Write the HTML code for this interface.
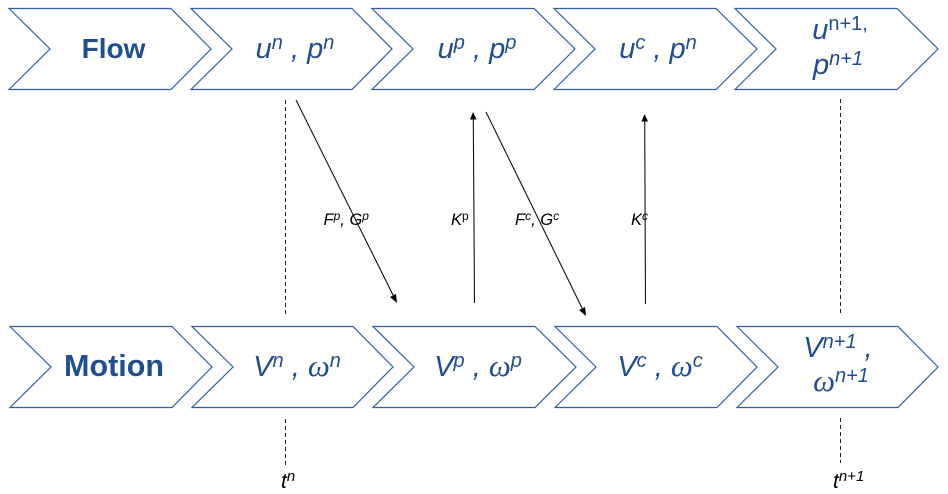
<!DOCTYPE html>
<html><head><meta charset="utf-8"><style>
html,body{margin:0;padding:0;background:#fff;width:948px;height:494px;overflow:hidden}
svg{display:block}
text{font-family:"Liberation Sans",sans-serif}
.c{fill:#fff;stroke:#2f5da6;stroke-width:1.2}
.b{fill:#1f4e91;font-size:28px;font-weight:bold;text-anchor:middle}
.m{fill:#1f4e91;font-size:29px;font-style:italic;text-anchor:middle}
.s{font-size:20px}
.u{font-size:20px;font-style:normal}
.w{font-family:"Liberation Serif",serif;font-size:31px}
.l{fill:#000;font-size:16.5px;font-style:italic}
.ls{font-size:12px}
.t{fill:#000;font-size:21px;font-style:italic}
.ts{font-size:15px}
.d{stroke:#222;stroke-width:1;stroke-dasharray:4 3;fill:none}
.a{stroke:#111;stroke-width:1.1;fill:none}
</style></head><body>
<svg width="948" height="494" viewBox="0 0 948 494" xmlns="http://www.w3.org/2000/svg">
<polygon class="c" points="9,8.5 171,8.5 211,49 171,89.5 9,89.5 50,49"/>
<polygon class="c" points="191,8.5 352,8.5 392,49 352,89.5 191,89.5 232,49"/>
<polygon class="c" points="372,8.5 534,8.5 575,49 534,89.5 372,89.5 413,49"/>
<polygon class="c" points="554,8.5 716,8.5 757,49 716,89.5 554,89.5 595,49"/>
<polygon class="c" points="735,8.5 897,8.5 938,49 897,89.5 735,89.5 776,49"/>
<polygon class="c" points="10,326.5 172,326.5 212,367 172,407.5 10,407.5 51,367"/>
<polygon class="c" points="192,326.5 353,326.5 393,367 353,407.5 192,407.5 233,367"/>
<polygon class="c" points="373,326.5 535,326.5 576,367 535,407.5 373,407.5 414,367"/>
<polygon class="c" points="555,326.5 717,326.5 757,367 717,407.5 555,407.5 596,367"/>
<polygon class="c" points="737,326.5 898,326.5 938,367 898,407.5 737,407.5 778,367"/>

<text class="b" x="113.5" y="58">Flow</text>
<text class="b" x="114" y="376" style="font-size:30.5px">Motion</text>

<text class="m" x="295" y="58" xml:space="preserve">u<tspan class="s" dy="-9">n</tspan><tspan dy="9"> , p</tspan><tspan class="s" dy="-9">n</tspan></text>
<text class="m" x="477" y="58" xml:space="preserve">u<tspan class="s" dy="-9">p</tspan><tspan dy="9"> , p</tspan><tspan class="s" dy="-9">p</tspan></text>
<text class="m" x="658" y="58" xml:space="preserve">u<tspan class="s" dy="-9">c</tspan><tspan dy="9"> , p</tspan><tspan class="s" dy="-9">n</tspan></text>
<text class="m" x="840" y="39">u<tspan class="u" dy="-9">n+1,</tspan></text>
<text class="m" x="838" y="74">p<tspan class="s" dy="-9">n+1</tspan></text>

<text class="m" x="297" y="376" xml:space="preserve">V<tspan class="s" dy="-9">n</tspan><tspan dy="9"> , </tspan><tspan class="w">ω</tspan><tspan class="s" dy="-9">n</tspan></text>
<text class="m" x="478" y="376" xml:space="preserve">V<tspan class="s" dy="-9">p</tspan><tspan dy="9"> , </tspan><tspan class="w">ω</tspan><tspan class="s" dy="-9">p</tspan></text>
<text class="m" x="660" y="376" xml:space="preserve">V<tspan class="s" dy="-9">c</tspan><tspan dy="9"> , </tspan><tspan class="w">ω</tspan><tspan class="s" dy="-9">c</tspan></text>
<text class="m" x="838" y="357" xml:space="preserve">V<tspan class="s" dy="-9">n+1</tspan><tspan dy="9"> ,</tspan></text>
<text class="m" x="841" y="391"><tspan class="w">ω</tspan><tspan class="s" dy="-9">n+1</tspan></text>

<line class="d" x1="285.5" y1="100" x2="285.5" y2="315"/>
<line class="d" x1="840.5" y1="99" x2="840.5" y2="315"/>
<line class="d" x1="285.5" y1="419" x2="285.5" y2="465"/>
<line class="d" x1="840.5" y1="418" x2="840.5" y2="463"/>

<line class="a" x1="296" y1="100" x2="394" y2="297"/>
<polygon points="397,303 390,297 396,294" fill="#000"/>
<line class="a" x1="474.5" y1="303" x2="473.3" y2="118"/>
<polygon points="473,112 470,119.5 476.5,119.5" fill="#000"/>
<line class="a" x1="486" y1="112" x2="583" y2="310"/>
<polygon points="586,316 579,310 585,307" fill="#000"/>
<line class="a" x1="645.5" y1="304" x2="644.7" y2="120"/>
<polygon points="644.5,114 641.5,121.5 648,121.5" fill="#000"/>

<text class="l" x="323.5" y="225">F<tspan class="ls" dy="-5">p</tspan><tspan dy="5">, G</tspan><tspan class="ls" dy="-5">p</tspan></text>
<text class="l" x="451" y="225">K<tspan class="ls" dy="-5" style="font-style:normal">p</tspan></text>
<text class="l" x="515" y="225">F<tspan class="ls" dy="-5">c</tspan><tspan dy="5">, G</tspan><tspan class="ls" dy="-5">c</tspan></text>
<text class="l" x="631" y="225">K<tspan class="ls" dy="-5">c</tspan></text>

<text class="t" x="281" y="488">t<tspan class="ts" dy="-7">n</tspan></text>
<text class="t" x="833" y="488">t<tspan class="ts" dy="-7">n+1</tspan></text>
</svg>
</body></html>
